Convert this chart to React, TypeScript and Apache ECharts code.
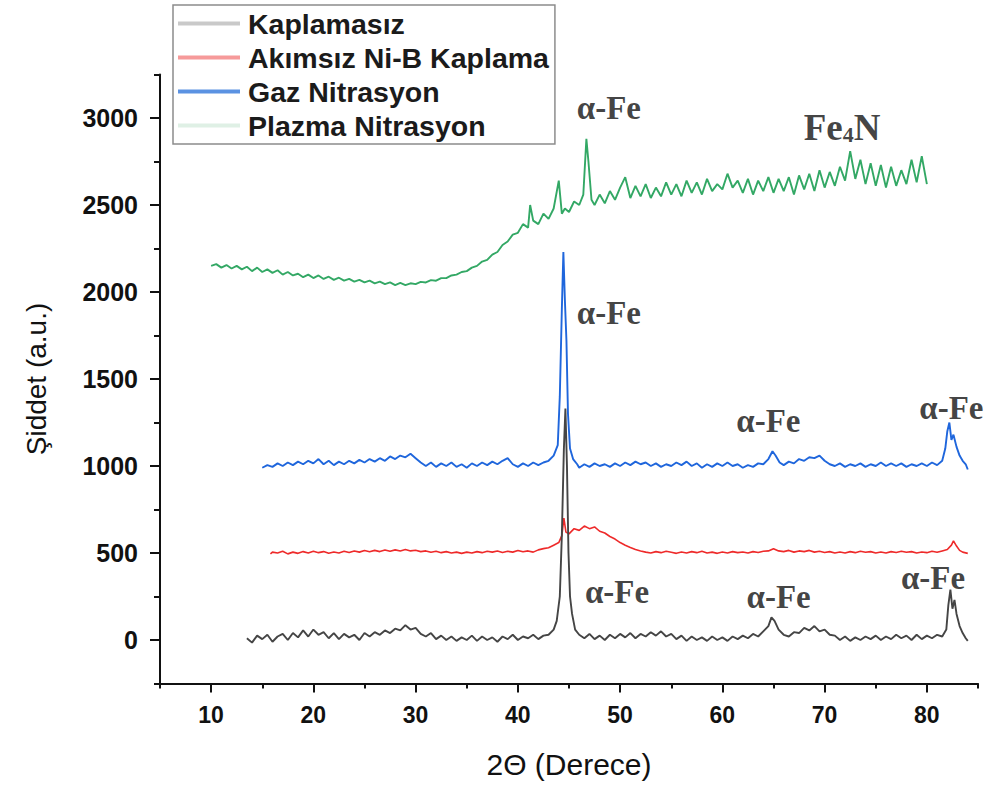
import React, { useEffect, useRef } from "react";
import * as echarts from "echarts";

// 2θ (deg), intensity (a.u.)
const kaplamasiz: number[][] = [
  [13.5,10],[14,-15],[14.5,25],[15,5],[15.5,30],[16,-10],[16.5,20],[17,35],[17.5,0],[18,40],[18.5,15],[19,55],[19.5,20],[20,60],[20.5,30],[21,45],[21.5,10],[22,40],[22.5,5],[23,35],[23.5,15],[24,30],[24.5,0],[25,40],[25.5,20],[26,45],[26.5,30],[27,55],[27.5,40],[28,65],[28.5,55],[29,85],[29.5,60],[30,70],[30.5,35],[31,20],[31.5,40],[32,5],[32.5,25],[33,0],[33.5,20],[34,-5],[34.5,15],[35,0],[35.5,25],[36,-5],[36.5,20],[37,0],[37.5,15],[38,-10],[38.5,20],[39,5],[39.5,30],[40,0],[40.5,20],[41,10],[41.5,30],[42,5],[42.5,25],[43,30],[43.5,60],[43.8,110],[44.1,250],[44.3,600],[44.5,1100],[44.65,1330],[44.8,1000],[44.95,500],[45.1,250],[45.3,150],[45.6,60],[46,30],[46.5,10],[47,35],[47.5,5],[48,25],[48.5,0],[49,30],[49.5,10],[50,35],[50.5,15],[51,40],[51.5,10],[52,35],[52.5,20],[53,45],[53.5,25],[54,50],[54.5,20],[55,35],[55.5,5],[56,25],[56.5,-5],[57,20],[57.5,0],[58,15],[58.5,-5],[59,20],[59.5,0],[60,15],[60.5,-5],[61,20],[61.5,5],[62,25],[62.5,10],[63,35],[63.5,20],[64,50],[64.5,80],[64.8,130],[65.1,110],[65.5,60],[66,30],[66.5,20],[67,45],[67.5,40],[68,70],[68.5,55],[69,80],[69.5,50],[70,60],[70.5,30],[71,25],[71.5,0],[72,20],[72.5,-5],[73,15],[73.5,0],[74,20],[74.5,5],[75,25],[75.5,0],[76,20],[76.5,5],[77,30],[77.5,10],[78,25],[78.5,0],[79,30],[79.5,5],[80,25],[80.5,10],[81,30],[81.5,20],[81.9,60],[82.1,200],[82.3,290],[82.5,180],[82.7,230],[82.9,150],[83.2,80],[83.5,40],[83.8,10],[84,-5]
];

const akimsiz: number[][] = [
  [15.8,495],[16,505],[16.5,500],[17,510],[17.5,495],[18,505],[18.5,498],[19,508],[19.5,500],[20,510],[20.5,502],[21,508],[21.5,498],[22,506],[22.5,500],[23,510],[23.5,503],[24,512],[24.5,505],[25,514],[25.5,507],[26,515],[26.5,508],[27,517],[27.5,510],[28,518],[28.5,512],[29,520],[29.5,512],[30,516],[30.5,508],[31,512],[31.5,504],[32,510],[32.5,502],[33,508],[33.5,500],[34,505],[34.5,498],[35,505],[35.5,500],[36,508],[36.5,502],[37,510],[37.5,505],[38,512],[38.5,503],[39,510],[39.5,505],[40,514],[40.5,507],[41,512],[41.5,505],[42,518],[42.5,525],[43,530],[43.5,545],[44,560],[44.3,600],[44.5,700],[44.7,620],[45,610],[45.5,640],[46,630],[46.5,655],[47,640],[47.5,650],[48,625],[48.5,615],[49,595],[49.5,580],[50,560],[50.5,545],[51,532],[51.5,520],[52,512],[52.5,505],[53,500],[53.5,508],[54,502],[54.5,510],[55,504],[55.5,498],[56,506],[56.5,500],[57,508],[57.5,502],[58,510],[58.5,500],[59,505],[59.5,498],[60,506],[60.5,500],[61,508],[61.5,502],[62,506],[62.5,500],[63,508],[63.5,503],[64,510],[64.5,512],[65,525],[65.5,512],[66,508],[66.5,515],[67,505],[67.5,512],[68,508],[68.5,515],[69,505],[69.5,510],[70,503],[70.5,508],[71,500],[71.5,506],[72,500],[72.5,508],[73,502],[73.5,510],[74,504],[74.5,508],[75,500],[75.5,506],[76,500],[76.5,508],[77,503],[77.5,510],[78,504],[78.5,508],[79,500],[79.5,506],[80,502],[80.5,510],[81,504],[81.5,512],[82,520],[82.4,545],[82.6,570],[82.9,540],[83.2,515],[83.5,505],[84,498]
];

const gaz: number[][] = [
  [15,990],[15.5,1005],[16,995],[16.5,1015],[17,1000],[17.5,1020],[18,1005],[18.5,1025],[19,1010],[19.5,1030],[20,1015],[20.5,1040],[21,1010],[21.5,1030],[22,1005],[22.5,1025],[23,1010],[23.5,1030],[24,1015],[24.5,1035],[25,1020],[25.5,1040],[26,1025],[26.5,1045],[27,1030],[27.5,1055],[28,1040],[28.5,1060],[29,1050],[29.5,1070],[30,1045],[30.5,1020],[31,1000],[31.5,1020],[32,995],[32.5,1015],[33,1000],[33.5,1020],[34,995],[34.5,1010],[35,990],[35.5,1015],[36,1000],[36.5,1020],[37,1005],[37.5,1025],[38,1010],[38.5,1030],[39,1045],[39.5,1010],[40,995],[40.5,1015],[41,1000],[41.5,1020],[42,1005],[42.5,1020],[43,1030],[43.5,1060],[43.9,1120],[44.1,1400],[44.3,1900],[44.45,2230],[44.6,1950],[44.75,1720],[44.9,1300],[45.1,1100],[45.4,1040],[45.8,1010],[46,990],[46.5,1010],[47,995],[47.5,1015],[48,1000],[48.5,1010],[49,995],[49.5,1015],[50,1000],[50.5,1020],[51,1005],[51.5,1025],[52,1010],[52.5,1020],[53,1000],[53.5,1015],[54,995],[54.5,1010],[55,1000],[55.5,1020],[56,1005],[56.5,1025],[57,1000],[57.5,1015],[58,990],[58.5,1010],[59,995],[59.5,1015],[60,1000],[60.5,1020],[61,1000],[61.5,1010],[62,990],[62.5,1005],[63,995],[63.5,1015],[64,1010],[64.5,1040],[64.9,1085],[65.2,1060],[65.6,1020],[66,1005],[66.5,1025],[67,1015],[67.5,1040],[68,1030],[68.5,1050],[69,1045],[69.5,1060],[70,1030],[70.5,1010],[71,1000],[71.5,1015],[72,995],[72.5,1010],[73,1000],[73.5,1015],[74,995],[74.5,1010],[75,1000],[75.5,1020],[76,1000],[76.5,1015],[77,1000],[77.5,1015],[78,995],[78.5,1010],[79,1000],[79.5,1015],[80,1000],[80.5,1020],[81,1005],[81.5,1030],[81.8,1100],[82,1200],[82.2,1250],[82.4,1150],[82.6,1180],[82.9,1110],[83.2,1060],[83.5,1030],[83.8,1010],[84,980]
];

const plazma: number[][] = [
  [10,2150],[10.5,2160],[11,2140],[11.5,2155],[12,2135],[12.5,2150],[13,2130],[13.5,2145],[14,2120],[14.5,2140],[15,2115],[15.5,2130],[16,2110],[16.5,2125],[17,2100],[17.5,2115],[18,2095],[18.5,2105],[19,2085],[19.5,2100],[20,2080],[20.5,2095],[21,2075],[21.5,2088],[22,2070],[22.5,2082],[23,2065],[23.5,2075],[24,2060],[24.5,2070],[25,2055],[25.5,2065],[26,2050],[26.5,2060],[27,2045],[27.5,2055],[28,2040],[28.5,2052],[29,2040],[29.5,2050],[30,2045],[30.5,2058],[31,2055],[31.5,2068],[32,2065],[32.5,2080],[33,2080],[33.5,2095],[34,2100],[34.5,2115],[35,2120],[35.5,2140],[36,2150],[36.5,2175],[37,2185],[37.5,2215],[38,2230],[38.5,2270],[39,2290],[39.5,2330],[40,2340],[40.5,2390],[41,2370],[41.2,2500],[41.5,2410],[42,2390],[42.5,2450],[43,2420],[43.5,2480],[44,2640],[44.3,2450],[44.6,2480],[45,2460],[45.5,2520],[46,2500],[46.4,2560],[46.7,2880],[46.9,2750],[47.2,2530],[47.5,2500],[48,2560],[48.5,2510],[49,2580],[49.5,2530],[50,2600],[50.5,2660],[51,2540],[51.5,2610],[52,2550],[52.5,2620],[53,2540],[53.5,2600],[54,2550],[54.5,2630],[55,2560],[55.5,2620],[56,2550],[56.5,2640],[57,2570],[57.5,2630],[58,2560],[58.5,2650],[59,2580],[59.5,2620],[60,2590],[60.5,2680],[61,2600],[61.5,2640],[62,2570],[62.5,2650],[63,2560],[63.5,2640],[64,2580],[64.5,2660],[65,2570],[65.5,2650],[66,2580],[66.5,2660],[67,2560],[67.5,2670],[68,2590],[68.5,2680],[69,2580],[69.5,2700],[70,2600],[70.5,2690],[71,2610],[71.5,2720],[72,2640],[72.5,2810],[73,2650],[73.5,2760],[74,2620],[74.5,2740],[75,2610],[75.5,2730],[76,2600],[76.5,2720],[77,2610],[77.5,2700],[78,2620],[78.5,2760],[79,2630],[79.5,2780],[80,2620]
];

const seriesNames = ["Kaplamasız", "Akımsız Ni-B Kaplama", "Gaz Nitrasyon", "Plazma Nitrasyon"];

// peak annotations: [2θ, intensity, text]
const annotations: (number | string)[][] = [
  [48.9, 3057, "α-Fe"],
  [71.7, 2948, "{a|Fe}{s|4}{a|N}"],
  [48.9, 1879, "α-Fe"],
  [64.5, 1259, "α-Fe"],
  [82.4, 1333, "α-Fe"],
  [49.7, 276, "α-Fe"],
  [65.5, 247, "α-Fe"],
  [80.6, 356, "α-Fe"],
];

const xMajor = [10, 20, 30, 40, 50, 60, 70, 80];
const xMinor = [5, 15, 25, 35, 45, 55, 65, 75, 85];
const yMajor = [0, 500, 1000, 1500, 2000, 2500, 3000];
const yMinor = [-250, 250, 750, 1250, 1750, 2250, 2750, 3250];

export default function App() {
  const ref = useRef<HTMLDivElement>(null);
  useEffect(() => {
    if (!ref.current) return;
    const chart = echarts.init(ref.current, undefined, { renderer: "svg" });
    const lineColors = ["#454545", "#ee2a2a", "#1f66dc", "#33a865"];
    const legendColors = ["#c9c9c9", "#f69a9a", "#5b92e2", "#dff0e5"];
    const font = "Liberation Sans, Arial, sans-serif";
    const serif = "Liberation Serif, Times New Roman, serif";
    chart.setOption({
      animation: false,
      backgroundColor: "#fff",
      grid: { left: 160, right: 17, top: 74.5, bottom: 109.5, outerBoundsMode: "none" },
      legend: {
        orient: "vertical",
        left: 173,
        top: 5,
        padding: [4, 6, 4, 5],
        itemWidth: 62,
        itemHeight: 14,
        itemGap: 5,
        borderColor: "#8c8c8c",
        borderWidth: 1.5,
        backgroundColor: "#fff",
        textStyle: { fontFamily: font, fontWeight: "bold", fontSize: 28.5, color: "#1b1b1b", padding: [0, 0, 0, 3] },
        data: seriesNames.map((n, i) => ({
          name: n,
          icon: "path://M0,0 L62,0 L62,4 L0,4 Z",
          itemStyle: { color: legendColors[i] },
          lineStyle: { color: legendColors[i], width: 4 },
        })),
      },
      xAxis: [
        {
          type: "value", min: 5, max: 85,
          name: "2Θ (Derece)", nameLocation: "middle", nameGap: 66,
          nameTextStyle: { fontFamily: font, fontSize: 30, color: "#111" },
          axisLine: { onZero: false, lineStyle: { color: "#111", width: 2 } },
          axisTick: { show: true, inside: false, length: 9, lineStyle: { color: "#111", width: 2 }, customValues: xMajor },
          axisLabel: { color: "#111", fontFamily: font, fontWeight: "bold", fontSize: 23, margin: 20, customValues: xMajor },
          splitLine: { show: false },
        },
        {
          type: "value", min: 5, max: 85, position: "bottom",
          axisLine: { show: false, onZero: false },
          axisTick: { show: true, length: 5, lineStyle: { color: "#111", width: 2 }, customValues: xMinor },
          axisLabel: { show: false },
          splitLine: { show: false },
        },
      ],
      yAxis: [
        {
          type: "value", min: -250, max: 3250,
          name: "Şiddet (a.u.)", nameLocation: "middle", nameGap: 110,
          nameTextStyle: { fontFamily: font, fontSize: 28, color: "#111" },
          axisLine: { show: true, onZero: false, lineStyle: { color: "#111", width: 2 } },
          axisTick: { show: true, length: 10, lineStyle: { color: "#111", width: 2 }, customValues: yMajor },
          axisLabel: { color: "#111", fontFamily: font, fontWeight: "bold", fontSize: 25, margin: 22, customValues: yMajor, formatter: (v: number) => String(v) },
          splitLine: { show: false },
        },
        {
          type: "value", min: -250, max: 3250, position: "left",
          axisLine: { show: false, onZero: false },
          axisTick: { show: true, length: 6, lineStyle: { color: "#111", width: 2 }, customValues: yMinor },
          axisLabel: { show: false },
          splitLine: { show: false },
        },
      ],
      series: [
        ...[kaplamasiz, akimsiz, gaz, plazma].map((d, i) => ({
          name: seriesNames[i],
          type: "line",
          data: d,
          showSymbol: false,
          symbol: "none",
          lineStyle: { color: lineColors[i], width: i === 1 ? 1.6 : 1.9 },
          itemStyle: { color: lineColors[i] },
          z: i === 1 ? 1 : 2,
          silent: true,
        })),
        {
          name: "annotations",
          type: "scatter",
          data: annotations,
          symbolSize: 0,
          silent: true,
          z: 5,
          label: {
            show: true,
            position: "inside",
            formatter: (p: any) => p.data[2],
            fontFamily: serif,
            fontWeight: "bold",
            fontSize: 33,
            color: "#111",
            rich: {
              a: { fontFamily: serif, fontWeight: "bold", fontSize: 37, color: "#111" },
              s: { fontFamily: serif, fontWeight: "bold", fontSize: 22, color: "#111", verticalAlign: "bottom", padding: [14, 0, 0, 0] },
            },
          },
        },
      ],
    });
    return () => chart.dispose();
  }, []);
  return <div ref={ref} style={{ width: 995, height: 793, position: "absolute", left: 0, top: 0 }} />;
}
